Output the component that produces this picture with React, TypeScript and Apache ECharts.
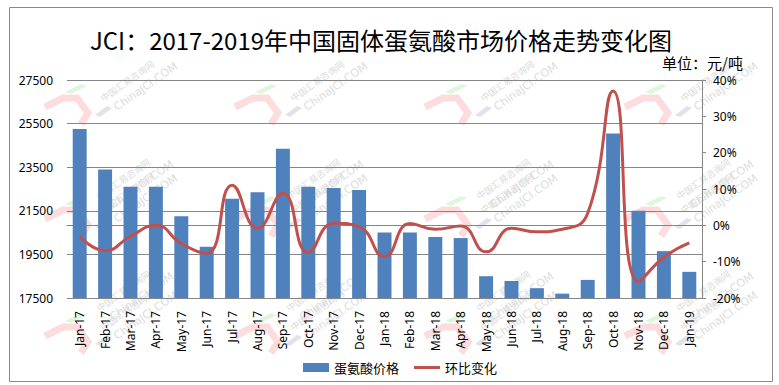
import React, { useEffect, useRef } from "react";
import * as echarts from "echarts";

const categories = [
  "Jan-17", "Feb-17", "Mar-17", "Apr-17", "May-17", "Jun-17", "Jul-17", "Aug-17",
  "Sep-17", "Oct-17", "Nov-17", "Dec-17", "Jan-18", "Feb-18", "Mar-18", "Apr-18",
  "May-18", "Jun-18", "Jul-18", "Aug-18", "Sep-18", "Oct-18", "Nov-18", "Dec-18", "Jan-19",
];

const prices = [
  25250, 23400, 22600, 22600, 21250, 19850, 22050, 22350,
  24350, 22600, 22550, 22450, 20500, 20500, 20300, 20250,
  18500, 18280, 17950, 17700, 18330, 25050, 21500, 19650, 18700,
];

const changes = [
  -3, -7, -3, 0, -5, -7.7, 11, -0.8,
  8.8, -7.5, 0.6, -0.4, -8.6, 0.5, -1.1, -0.2,
  -7.3, -0.8, -1.8, -1.1, 3.3, 37, -15.5, -8.8, -4.8,
];

const leftTicks = { min: 17500, max: 27500, interval: 2000 };
const rightTicks = { min: -20, max: 40, interval: 10 };

const titleText = "JCI：2017-2019年中国固体蛋氨酸市场价格走势变化图";
const unitText = "单位：元/吨";
const seriesNames = ["蛋氨酸价格", "环比变化"];
const wmLine1 = "中国汇易咨询网";
const wmLine2 = "ChinaJCI.COM";

const FONT = "'Noto Sans CJK SC', 'Noto Sans', sans-serif";
const WM_LATIN = "Verdana, 'DejaVu Sans', sans-serif";
const WM_ROT = (35 * Math.PI) / 180;

function wmText(x: number, y: number): any {
  const children: any[] = [
    {
      type: "text",
      x: 0,
      y: -14,
      style: { text: wmLine1, fontSize: 9, fill: "#dcdcdc", fontFamily: FONT },
    },
    {
      type: "text",
      x: 6,
      y: 0,
      style: { text: wmLine2, fontSize: 11, fill: "#dcdcdc", fontFamily: WM_LATIN },
    },
  ];
  return { type: "group", x, y, silent: true, z: 1, children, rotation: WM_ROT + 2 * Math.PI };
}

function watermark(): any[] {
  const xs = [45, 235, 425, 625];
  const ys = [93, 205, 322];
  const els: any[] = [];
  ys.forEach((y0, j) => {
    xs.forEach((x0) => {
      els.push({
        type: "group",
        x: x0,
        y: y0,
        z: 1,
        silent: true,
        children: [
          {
            type: "polyline",
            shape: { points: [[0, 14], [18, 5], [32, 5], [43, 20], [36, 31]] },
            style: { stroke: "#fcdcdc", lineWidth: 7, fill: null },
          },
          {
            type: "polygon",
            shape: { points: [[20, -1], [36, -9], [42, -7], [26, 1]] },
            style: { fill: "#ddf7dd" },
          },
          {
            type: "polygon",
            shape: { points: [[50, 22], [62, 13], [67, 15], [55, 24]] },
            style: { fill: "#e2e2ea" },
          },
        ],
      });
      els.push(wmText(x0 + 62, y0 + 14));
      if (j < 2) {
        els.push(wmText(x0 + 58, y0 + 112));
      }
    });
  });
  return els;
}

export default function App() {
  const ref = useRef<HTMLDivElement>(null);

  useEffect(() => {
    if (!ref.current) return;
    const chart = echarts.init(ref.current, null, { renderer: "svg" });
    const option: any = {
      animation: false,
      backgroundColor: "#ffffff",
      textStyle: { fontFamily: FONT },
      grid: { left: 67, right: 77, top: 80, bottom: 87 },
      graphic: {
        elements: [
          ...watermark(),
          {
            type: "rect",
            z: 0,
            silent: true,
            shape: { x: 9.5, y: 7.5, width: 763, height: 374 },
            style: { fill: null, stroke: "#8a8a8a", lineWidth: 1 },
          },
          {
            type: "text",
            x: 381,
            y: 39,
            z: 10,
            style: {
              text: titleText,
              fontSize: 24,
              fontFamily: FONT,
              fill: "#000",
              textAlign: "center",
              textVerticalAlign: "middle",
            },
          },
          {
            type: "text",
            x: 743,
            y: 62,
            z: 10,
            style: {
              text: unitText,
              fontSize: 15,
              fontFamily: FONT,
              fill: "#000",
              textAlign: "right",
              textVerticalAlign: "middle",
            },
          },
        ],
      },
      legend: {
        left: 298,
        top: 356,
        itemWidth: 26,
        itemHeight: 9,
        itemGap: 15,
        textStyle: { fontSize: 13, color: "#000", fontFamily: FONT },
        data: [
          { name: seriesNames[0], icon: "rect" },
          { name: seriesNames[1], icon: "path://M0 0H26V3H0Z" },
        ],
      },
      xAxis: {
        type: "category",
        data: categories,
        boundaryGap: true,
        axisLine: { show: true, lineStyle: { color: "#868686", width: 1 } },
        axisTick: { show: false },
        axisLabel: {
          rotate: 90,
          margin: 13,
          interval: 0,
          fontSize: 12,
          color: "#000",
          fontFamily: "'Noto Sans', sans-serif",
        },
      },
      yAxis: [
        {
          type: "value",
          min: leftTicks.min,
          max: leftTicks.max,
          interval: leftTicks.interval,
          axisLine: { show: false },
          axisTick: { show: false },
          splitLine: { show: true, lineStyle: { color: "#868686", width: 1 } },
          axisLabel: {
            margin: 14,
            fontSize: 12,
            color: "#000",
            fontFamily: "'Noto Sans', sans-serif",
            formatter: (v: number) => String(v),
          },
        },
        {
          type: "value",
          position: "right",
          min: rightTicks.min,
          max: rightTicks.max,
          interval: rightTicks.interval,
          axisLine: { show: true, lineStyle: { color: "#868686", width: 1 } },
          axisTick: { show: true, inside: false, length: 4, lineStyle: { color: "#868686" } },
          splitLine: { show: false },
          axisLabel: {
            margin: 11,
            fontSize: 12,
            color: "#000",
            fontFamily: "'Noto Sans', sans-serif",
            formatter: "{value}%",
          },
        },
      ],
      series: [
        {
          name: seriesNames[0],
          type: "bar",
          data: prices,
          yAxisIndex: 0,
          barWidth: "55%",
          itemStyle: { color: "#4f81bd" },
          z: 2,
        },
        {
          name: seriesNames[1],
          type: "line",
          data: changes,
          yAxisIndex: 1,
          smooth: 0.5,
          symbol: "none",
          lineStyle: { color: "#c0504d", width: 3 },
          itemStyle: { color: "#c0504d" },
          z: 3,
        },
      ],
    };
    chart.setOption(option);
    return () => chart.dispose();
  }, []);

  return (
    <div
      ref={ref}
      style={{ position: "fixed", left: 0, top: 0, width: 779, height: 385 }}
    />
  );
}
